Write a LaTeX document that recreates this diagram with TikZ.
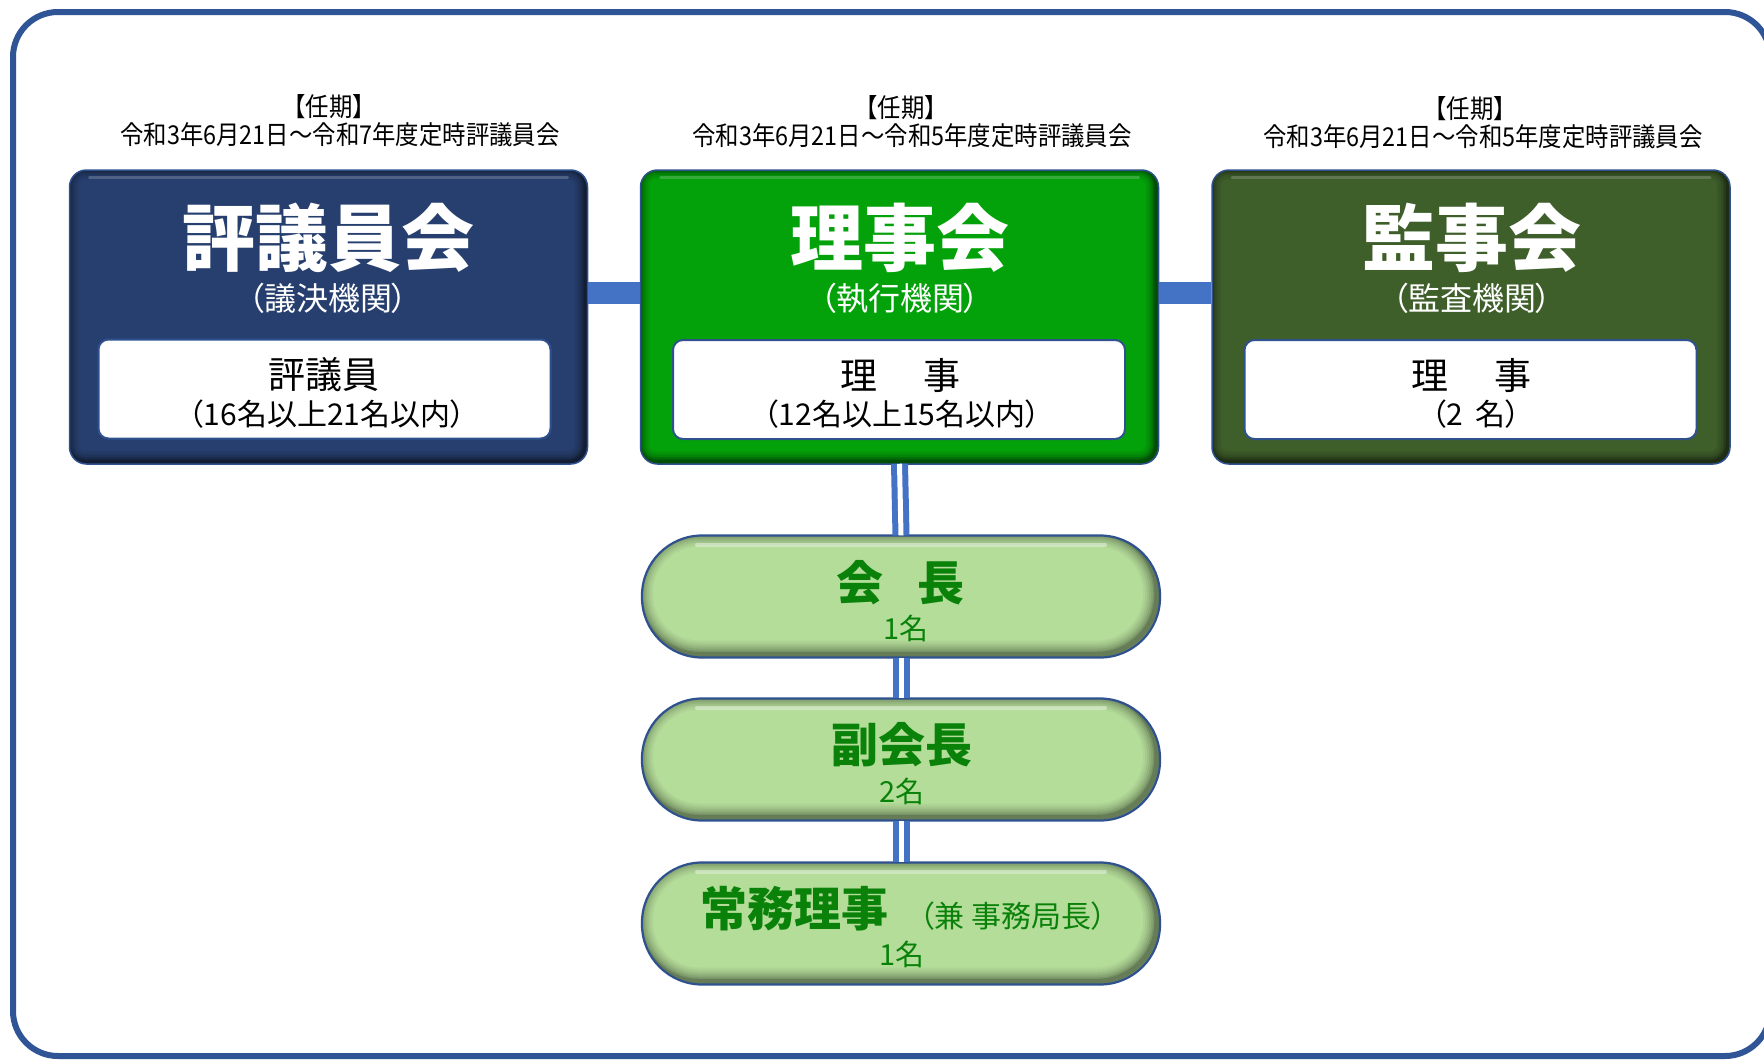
\documentclass[tikz,border=0pt]{standalone}
\usepackage{fontspec}
\newfontfamily\jp[RawFeature=+palt]{Noto Sans CJK JP}
\newfontfamily\jpn[FakeStretch=0.9]{Noto Sans CJK JP}
\usetikzlibrary{calc}
\definecolor{frameblue}{HTML}{2F5597}
\definecolor{barblue}{HTML}{4472C4}
\definecolor{edgeblue}{HTML}{2F528F}
\definecolor{navy}{HTML}{273F6E}
\definecolor{grn}{HTML}{04A20A}
\definecolor{dgrn}{HTML}{3E5E2A}
\definecolor{pillg}{HTML}{B5DD9A}
\definecolor{pilltext}{HTML}{0A820A}
\tikzset{
  bevel/.style={path picture={
    \foreach \w/\p in {22/94,18/88,14/80,10/70,7/60,4/48}{
      \draw[line width=\w pt, color=#1!\p!black, rounded corners=17pt]
        ([xshift=-2pt,yshift=2pt]path picture bounding box.north west) rectangle
        ([xshift=-2pt,yshift=2pt]path picture bounding box.south east);
    }
    \draw[white, opacity=.2, line width=3pt, line cap=round]
      ([xshift=20pt,yshift=-7pt]path picture bounding box.north west) --
      ([xshift=-20pt,yshift=-7pt]path picture bounding box.north east);
  }},
  pillbevel/.style={path picture={
    \foreach \w/\p in {28/96,24/92,20/87,16/81,12/74,8/66,5/56}{
      \draw[line width=\w pt, color=pillg!\p!black, rounded corners=60pt]
        ([xshift=-3pt,yshift=3pt]path picture bounding box.north west) rectangle
        ([xshift=-3pt,yshift=3pt]path picture bounding box.south east);
    }
    \draw[white, opacity=.4, line width=4pt, line cap=round]
      ([xshift=55pt,yshift=-9pt]path picture bounding box.north west) --
      ([xshift=-55pt,yshift=-9pt]path picture bounding box.north east);
  }},
  orgbox/.style={draw=edgeblue, line width=1.5pt, rounded corners=17pt,
    minimum width=518pt, minimum height=294pt, inner sep=0pt, fill=#1, bevel=#1},
  pill/.style={draw=edgeblue, line width=2.2pt, rounded corners=60pt,
    minimum width=518pt, minimum height=122pt, inner sep=0pt, fill=pillg, pillbevel},
  innerbox/.style={draw=edgeblue, line width=2pt, fill=white, rounded corners=10pt,
    minimum width=452pt, minimum height=99pt, inner sep=0pt},
  hbar/.style={barblue, line width=22pt},
  vbar/.style={draw=barblue, line width=6pt, double=white, double distance=5pt},
  term/.style={inner sep=0pt, font=\jpn\fontsize{26}{30}\selectfont},
  ttl/.style={inner sep=0pt, white, font=\jp\bfseries\fontsize{73}{80}\selectfont},
  subt/.style={inner sep=0pt, white, font=\jp\fontsize{32}{36}\selectfont},
  inA/.style={inner sep=0pt, font=\jp\fontsize{37}{40}\selectfont},
  inB/.style={inner sep=0pt, font=\jp\fontsize{30}{34}\selectfont},
  ptitle/.style={inner sep=0pt, pilltext, font=\jp\bfseries\fontsize{47}{50}\selectfont},
  pnote/.style={inner sep=0pt, pilltext, font=\jp\fontsize{30}{34}\selectfont},
  pcount/.style={inner sep=0pt, pilltext, font=\jp\fontsize{29}{32}\selectfont},
}
\begin{document}
\begin{tikzpicture}[x=1pt,y=-1pt]
\clip (0,0) rectangle (1764,1060);
\fill[white] (0,0) rectangle (1764,1060);
\draw[line width=6pt, frameblue, rounded corners=45pt] (13,12) rectangle (1770,1056);

% term labels
\node[term] (k1a) at (329,107) {【任期】};
\node[term] (k1b) at (340,135) {令和3年6月21日～令和7年度定時評議員会};
\node[term] (k2a) at (901,108) {【任期】};
\node[term] (k2b) at (912,136) {令和3年6月21日～令和5年度定時評議員会};
\node[term] (k3a) at (1470,109) {【任期】};
\node[term] (k3b) at (1483,137) {令和3年6月21日～令和5年度定時評議員会};

% main boxes
\node[orgbox=navy] (b1) at (328.5,317) {};
\node[orgbox=grn] (b2) at (899.5,317) {};
\node[orgbox=dgrn] (b3) at (1471,317) {};

\draw[hbar] ([yshift=24pt]b1.east) -- ([yshift=24pt]b2.west);
\draw[hbar] ([yshift=24pt]b2.east) -- ([yshift=24pt]b3.west);

\node[ttl] (h1) at (328,238) {評議員会};
\node[subt] (s1) at (328,298) {（議決機関）};
\node[innerbox] (i1) at (324.5,389) {};
\node[inA] (i1a) at (324,375) {評議員};
\node[inB] (i1b) at (327,414) {（16名以上21名以内）};

\node[ttl] (h2) at (900,238) {理事会};
\node[subt] (s2) at (900,298) {（執行機関）};
\node[innerbox] (i2) at (899,389.5) {};
\node[inA] (i2a) at (900.5,375) {理\hspace{46pt}事};
\node[inB] (i2b) at (902,414) {（12名以上15名以内）};

\node[ttl] (h3) at (1472,238) {監事会};
\node[subt] (s3) at (1472,298) {（監査機関）};
\node[innerbox] (i3) at (1470.5,389.5) {};
\node[inA] (i3a) at (1471,375) {理\hspace{46pt}事};
\node[inB] (i3b) at (1476,414) {（2\hspace{12pt}名）};

% pills
\node[pill] (p1) at (901,596.5) {};
\node[pill] (p2) at (901,759.5) {};
\node[pill] (p3) at (901,923.5) {};

\draw[vbar] ([yshift=1pt]b2.south) -- ([yshift=-1pt]p1.north);
\draw[vbar] ([yshift=1pt]p1.south) -- ([yshift=-1pt]p2.north);
\draw[vbar] ([yshift=1pt]p2.south) -- ([yshift=-1pt]p3.north);

\node[ptitle] (q1) at (900.5,583) {会\hspace{35pt}長};
\node[pcount] (c1) at (906,628) {1名};
\node[ptitle] (q2) at (902,745) {副会長};
\node[pcount] (c2) at (902,791) {2名};
\node[ptitle] (q3) at (794,909) {常務理事};
\node[pnote] (n3) at (1013,916) {（兼 事務局長）};
\node[pcount] (c3) at (902,954) {1名};
\end{tikzpicture}
\end{document}
